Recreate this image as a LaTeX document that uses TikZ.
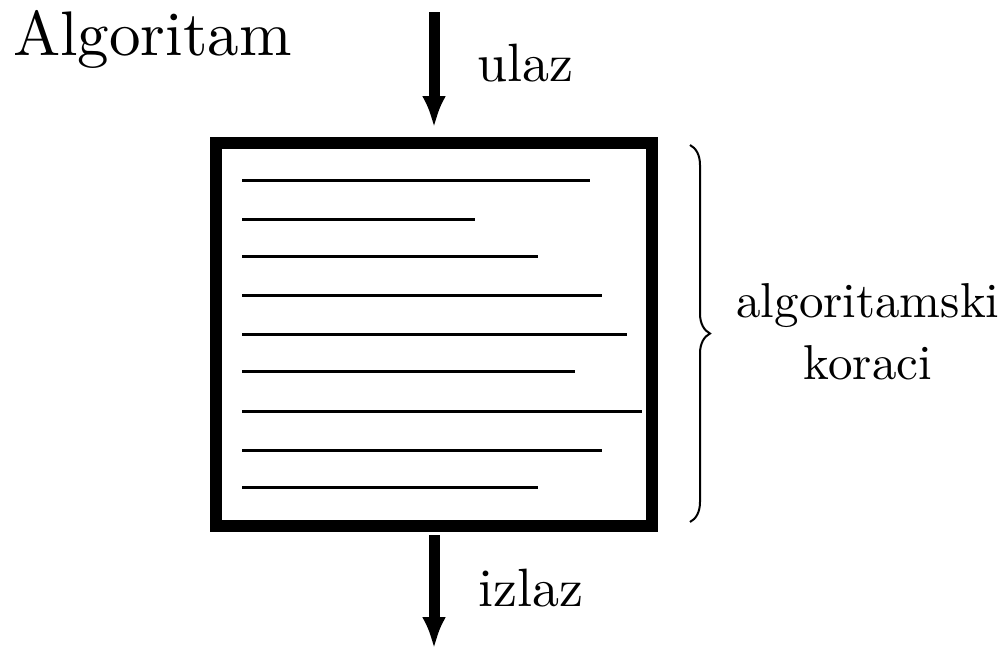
\documentclass[tikz,border=0pt]{standalone}
\usepackage{fontspec}
\setmainfont{lmroman10-regular}[Extension=.otf]
\usepackage{tikz}
\usetikzlibrary{arrows.meta,decorations.pathreplacing,positioning}
\tikzset{flow/.style={line width=11pt,-{Latex[length=32pt,width=24pt]}},
	txt/.style={inner sep=0pt,font=\fontsize{54}{60}\selectfont},
	stroke/.style={line width=3pt}}

\begin{document}
\begin{tikzpicture}[x=1pt,y=-1pt,auto]
		\useasboundingbox (0,0) rectangle (1006,651);
		\node(box)[draw,line width=12pt,minimum width=436pt,minimum height=383pt,inner sep=0pt] at (434,334.5){};
		\node(title)[txt,font=\fontsize{63}{70}\selectfont,anchor=base west] at (13,55){Algoritam};
		\coordinate(in) at (434,12);
		\coordinate(out) at (434,649);
		\draw[flow,shorten >=9pt](in) to node[txt,pos=0.41,xshift=38pt]{ulaz}(box);
		\draw[flow,shorten <=3pt](box) to node[txt,pos=0.48,xshift=39pt]{izlaz}(out);
		\foreach \y/\x in {180/590,219/475,256/538,295/602,334/627,371/575,411/642,450/602,487/538}
			\draw[stroke](242,\y) -- (\x,\y);
		\coordinate(bt) at (690,145);
		\coordinate(bb) at (690,522);
		\draw[decorate,decoration={brace,amplitude=20pt},line width=2pt](bt) -- (bb);
		\node(steps)[txt,font=\fontsize{49}{62}\selectfont,align=center] at (868,332){algoritamski\\koraci};
	\end{tikzpicture}
\end{document}
